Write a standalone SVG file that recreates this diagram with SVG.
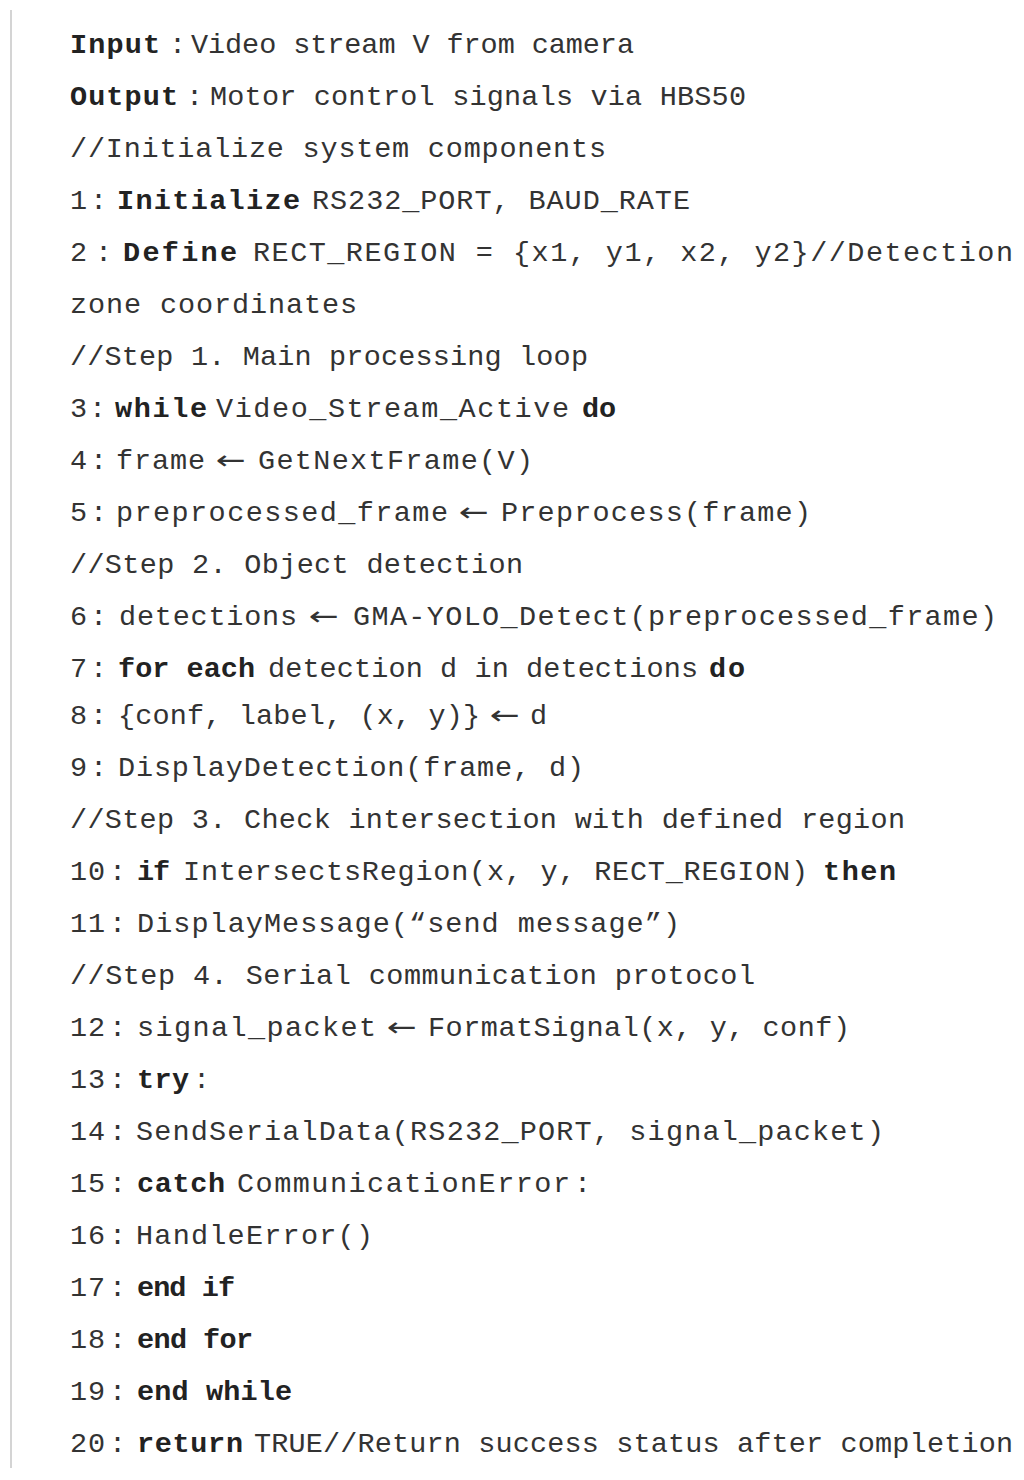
<svg xmlns="http://www.w3.org/2000/svg" width="1024" height="1480" viewBox="0 0 1024 1480">
<style>
text{font-family:"Liberation Mono","DejaVu Sans Mono",monospace;font-size:28.5px;fill:#333}
.b{font-weight:bold;fill:#222}
.a{font-family:"DejaVu Sans",sans-serif;font-size:26px}
</style>
<rect width="1024" height="1480" fill="#fff"/>
<line x1="11" y1="10" x2="11" y2="1468" stroke="#d4d4d4" stroke-width="2"/>
<g id="algorithm">
<text y="53"><tspan class="b" x="70" textLength="90">Input</tspan><tspan x="169">:</tspan> <tspan x="191" textLength="443">Video stream V from camera</tspan></text>
<text y="105"><tspan class="b" x="70" textLength="108">Output</tspan><tspan x="186">:</tspan> <tspan x="210" textLength="536">Motor control signals via HBS50</tspan></text>
<text y="157"><tspan x="70" textLength="536">//Initialize system components</tspan></text>
<text y="209"><tspan x="70">1</tspan><tspan x="90">:</tspan> <tspan class="b" x="117" textLength="183">Initialize</tspan> <tspan x="312" textLength="378">RS232_PORT, BAUD_RATE</tspan></text>
<text y="261"><tspan x="70">2</tspan><tspan x="95">:</tspan> <tspan class="b" x="123" textLength="114">Define</tspan> <tspan x="253" textLength="760">RECT_REGION = {x1, y1, x2, y2}//Detection</tspan></text>
<text y="313"><tspan x="70" textLength="287">zone coordinates</tspan></text>
<text y="365"><tspan x="70" textLength="518">//Step 1. Main processing loop</tspan></text>
<text y="417"><tspan x="70">3</tspan><tspan x="89">:</tspan> <tspan class="b" x="115" textLength="92">while</tspan> <tspan x="216" textLength="353">Video_Stream_Active</tspan> <tspan class="b" x="582" textLength="34">do</tspan></text>
<text y="469"><tspan x="70">4</tspan><tspan x="90">:</tspan> <tspan x="116" textLength="89">frame</tspan> <tspan class="a" x="216" textLength="30" lengthAdjust="spacingAndGlyphs">←</tspan> <tspan x="258" textLength="275">GetNextFrame(V)</tspan></text>
<text y="521"><tspan x="70">5</tspan><tspan x="90">:</tspan> <tspan x="116" textLength="332">preprocessed_frame</tspan> <tspan class="a" x="459" textLength="30" lengthAdjust="spacingAndGlyphs">←</tspan> <tspan x="501" textLength="310">Preprocess(frame)</tspan></text>
<text y="573"><tspan x="70" textLength="453">//Step 2. Object detection</tspan></text>
<text y="625"><tspan x="70">6</tspan><tspan x="90">:</tspan> <tspan x="119" textLength="178">detections</tspan> <tspan class="a" x="309" textLength="30" lengthAdjust="spacingAndGlyphs">←</tspan> <tspan x="353" textLength="644">GMA-YOLO_Detect(preprocessed_frame)</tspan></text>
<text y="677"><tspan x="70">7</tspan><tspan x="90">:</tspan> <tspan class="b" x="118" textLength="137">for each</tspan> <tspan x="268" textLength="430">detection d in detections</tspan> <tspan class="b" x="709" textLength="36">do</tspan></text>
<text y="724"><tspan x="70">8</tspan><tspan x="90">:</tspan> <tspan x="118" textLength="362">{conf, label, (x, y)}</tspan> <tspan class="a" x="490" textLength="30" lengthAdjust="spacingAndGlyphs">←</tspan> <tspan x="530">d</tspan></text>
<text y="776"><tspan x="70">9</tspan><tspan x="90">:</tspan> <tspan x="118" textLength="466">DisplayDetection(frame, d)</tspan></text>
<text y="828"><tspan x="70" textLength="835">//Step 3. Check intersection with defined region</tspan></text>
<text y="880"><tspan x="70" textLength="35">10</tspan><tspan x="109">:</tspan> <tspan class="b" x="137" textLength="33">if</tspan> <tspan x="183" textLength="625">IntersectsRegion(x, y, RECT_REGION)</tspan> <tspan class="b" x="823" textLength="73">then</tspan></text>
<text y="932"><tspan x="70" textLength="35">11</tspan><tspan x="109">:</tspan> <tspan x="137" textLength="543">DisplayMessage(“send message”)</tspan></text>
<text y="984"><tspan x="70" textLength="685">//Step 4. Serial communication protocol</tspan></text>
<text y="1036"><tspan x="70" textLength="35">12</tspan><tspan x="109">:</tspan> <tspan x="137" textLength="239">signal_packet</tspan> <tspan class="a" x="387" textLength="30" lengthAdjust="spacingAndGlyphs">←</tspan> <tspan x="428" textLength="422">FormatSignal(x, y, conf)</tspan></text>
<text y="1088"><tspan x="70" textLength="35">13</tspan><tspan x="109">:</tspan> <tspan class="b" x="137" textLength="52">try</tspan><tspan x="193">:</tspan></text>
<text y="1140"><tspan x="70" textLength="35">14</tspan><tspan x="109">:</tspan> <tspan x="136" textLength="748">SendSerialData(RS232_PORT, signal_packet)</tspan></text>
<text y="1192"><tspan x="70" textLength="35">15</tspan><tspan x="109">:</tspan> <tspan class="b" x="137" textLength="88">catch</tspan> <tspan x="237" textLength="333">CommunicationError</tspan><tspan x="574">:</tspan></text>
<text y="1244"><tspan x="70" textLength="35">16</tspan><tspan x="109">:</tspan> <tspan x="136" textLength="237">HandleError()</tspan></text>
<text y="1296"><tspan x="70" textLength="35">17</tspan><tspan x="109">:</tspan> <tspan class="b" x="137" textLength="98">end if</tspan></text>
<text y="1348"><tspan x="70" textLength="35">18</tspan><tspan x="109">:</tspan> <tspan class="b" x="137" textLength="116">end for</tspan></text>
<text y="1400"><tspan x="70" textLength="35">19</tspan><tspan x="109">:</tspan> <tspan class="b" x="137" textLength="155">end while</tspan></text>
<text y="1452"><tspan x="70" textLength="35">20</tspan><tspan x="109">:</tspan> <tspan class="b" x="137" textLength="106">return</tspan> <tspan x="254" textLength="759">TRUE//Return success status after completion</tspan></text>
</g>
</svg>
